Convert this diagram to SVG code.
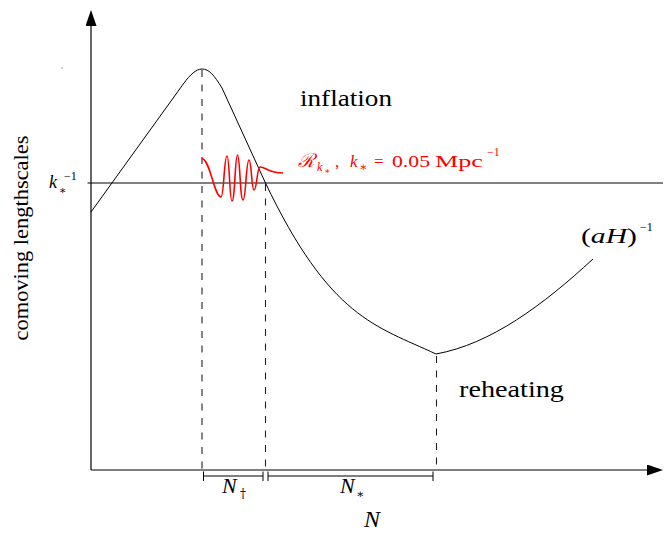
<svg xmlns="http://www.w3.org/2000/svg" width="670" height="533" viewBox="0 0 670 533">
<style>
.ax{stroke:#000;stroke-width:1.2;fill:none}
.thin{stroke:#000;stroke-width:1;fill:none}
.dash{stroke:#222;stroke-width:1.1;fill:none;stroke-dasharray:7 7.5}
.red{stroke:#f00;stroke-width:1.6;fill:none}
.t{font-family:"Liberation Serif","DejaVu Serif",serif;fill:#000}
.it{font-style:italic}
.rt{font-family:"Liberation Serif","DejaVu Serif",serif;fill:#f00}
</style>
<defs>
<marker id="arr" markerUnits="userSpaceOnUse" markerWidth="16" markerHeight="11" refX="0" refY="5.5" orient="auto" viewBox="0 0 16 11">
<path d="M0,0 L16,5.5 L0,11 z" fill="#000"/>
</marker>
</defs>
<rect width="670" height="533" fill="#fff"/>
<g id="axes">
<line class="ax" x1="91" y1="470" x2="91" y2="26" marker-end="url(#arr)"/>
<line class="ax" x1="91" y1="470" x2="647" y2="470" marker-end="url(#arr)"/>
<line class="thin" x1="87.5" y1="183" x2="663" y2="183"/>
<circle cx="62" cy="68" r="0.7" fill="#777"/>
</g>
<g id="connectors">
<path class="thin" d="M91,212 L184,83 C190,75 196,69 202,69 C209,69 214,75 222,88 L265,182 C330,318.5 376,325.8 436,354 C491,344 543,305 593,259"/>
<line class="dash" x1="202" y1="70" x2="202" y2="470"/>
<line class="dash" x1="265.5" y1="184" x2="265.5" y2="470"/>
<line class="dash" x1="436.5" y1="356" x2="436.5" y2="470"/>
<path class="thin" d="M203.5,471.5 V481 M203.5,476 H263 M263,471.5 V481"/>
<path class="thin" d="M268,471.5 V481 M268,476 H433 M433,471.5 V481"/>
</g>
<g id="wave">
<path class="red" d="M201.5,158.5 C210,158 214,197 221,197 C224,197 224,156 227,156 C229.5,156 229.5,201 232,201 C235,201 235,155 237.5,155 C240,155 240,200 243,200 C246,200 246,160 249,160 C251.5,160 251.5,190 254,190 C257,190 257,167 260,167 C266,167 268,173 283,173"/>
</g>
<g id="labels">
<text class="t" x="300" y="106" font-size="23" textLength="92" lengthAdjust="spacingAndGlyphs">inflation</text>
<text class="t" x="459" y="397" font-size="23" textLength="105" lengthAdjust="spacingAndGlyphs">reheating</text>
<text class="t" transform="translate(28,238) rotate(-90)" text-anchor="middle" font-size="20" textLength="205" lengthAdjust="spacingAndGlyphs">comoving lengthscales</text>
<g id="kstar">
<text class="t it" x="49" y="188" font-size="18">k</text>
<text class="t" x="59" y="194" font-size="11">∗</text>
<text class="t" x="64" y="180" font-size="12">−1</text>
</g>
<g id="aH">
<text class="t" x="581" y="243" font-size="21" textLength="56" lengthAdjust="spacingAndGlyphs">(<tspan class="it">aH</tspan>)</text>
<text class="t" x="640" y="231" font-size="12">−1</text>
</g>
<g id="Rlabel">
<text class="rt it" x="298" y="167" font-size="19">ℛ</text>
<text class="rt it" x="317" y="171" font-size="12">k</text>
<text class="rt" x="324" y="174" font-size="9">∗</text>
<text class="rt" x="335" y="167" font-size="17">,</text>
<text class="rt it" x="350" y="167" font-size="17">k</text>
<text class="rt" x="359" y="171" font-size="12">∗</text>
<text class="rt" x="374" y="167" font-size="17">=</text>
<text class="rt" x="392" y="167" font-size="17" textLength="38" lengthAdjust="spacingAndGlyphs">0.05</text>
<text class="rt" x="435" y="167" font-size="17" textLength="48" lengthAdjust="spacingAndGlyphs">Mpc</text>
<text class="rt" x="487" y="156" font-size="12">−1</text>
</g>
<g id="Ndag">
<text class="t it" x="222" y="493" font-size="22">N</text>
<text x="240" y="498" font-size="12" style="font-family:'DejaVu Serif',serif;fill:#000">†</text>
</g>
<g id="Nstar">
<text class="t it" x="340" y="493" font-size="22">N</text>
<text class="t" x="356" y="498" font-size="12">∗</text>
</g>
<text class="t it" x="364" y="527" font-size="24">N</text>
</g>
</svg>
